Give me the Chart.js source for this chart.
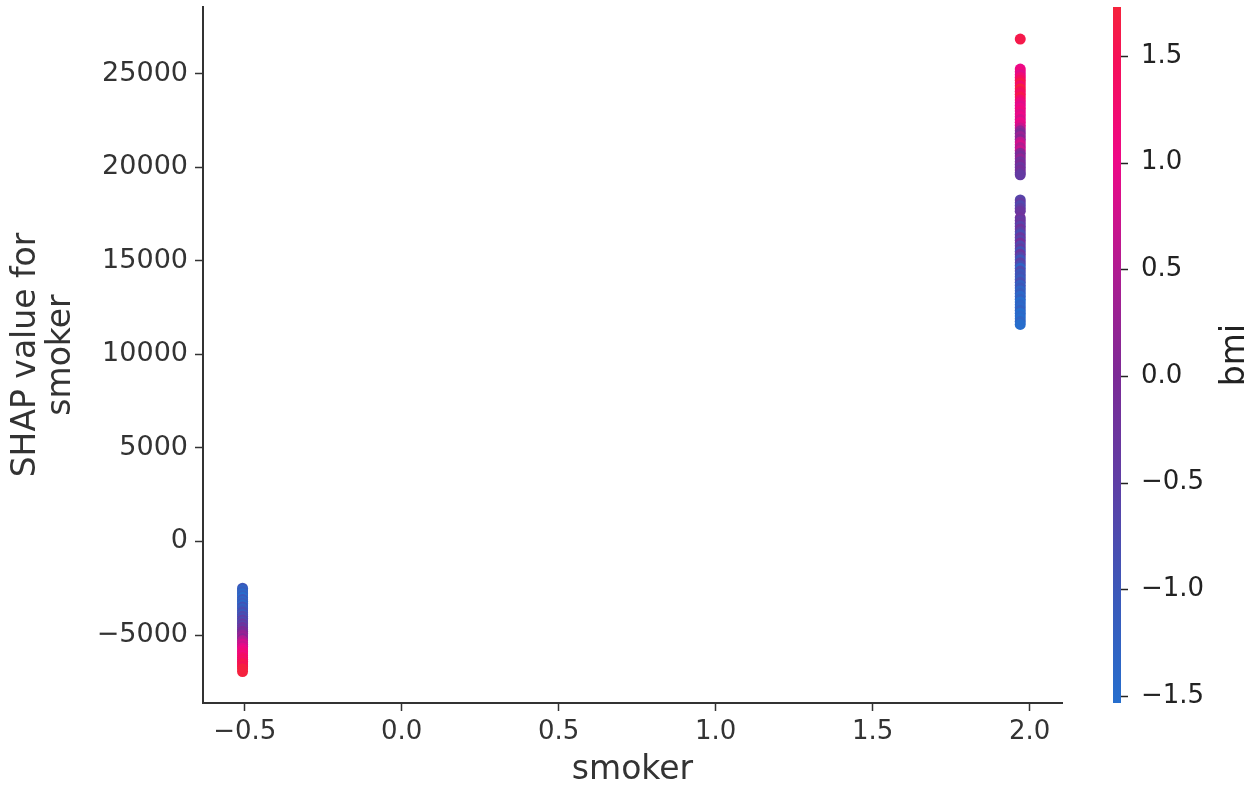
<!DOCTYPE html>
<html>
<head>
<meta charset="utf-8">
<script src="https://cdn.jsdelivr.net/npm/chart.js@4.4.0/dist/chart.umd.min.js"></script>
<style>
  html, body { margin: 0; padding: 0; background: #fff; }
  #chart { display: block; }
</style>
</head>
<body>
<canvas id="chart" width="1250" height="788"></canvas>
<script>
// standardized smoker feature: no / yes
const smokerLevels = [-0.507, 1.97];

// non-smokers (top to bottom)
const nonSmokerShap = [-2500, -2600, -2700, -2800, -2900, -3000, -3100, -3200, -3300, -3400,
    -3500, -3600, -3700, -3800, -3900, -4000, -4100, -4200, -4300, -4400,
    -4500, -4600, -4700, -4800, -4900, -5000, -5100, -5200, -5300, -5400,
    -5500, -5600, -5700, -5800, -5900, -6000, -6100, -6200, -6300, -6400,
    -6500, -6600, -6700, -6800, -6950];
const nonSmokerBmi = [-1.0, -1.3, -1.1, -1.4, -1.2, -1.5, -1.0, -1.3, -1.1, -1.4,
    -0.9, -1.2, -1.0, -0.8, -1.1, -0.7, -0.9, -0.5, -0.8, -0.4,
    -0.6, -0.2, -0.4, 0.0, -0.1, 0.2, 0.3, 0.1, 0.5, 0.6,
    0.8, 0.7, 0.9, 1.0, 1.1, 1.2, 1.1, 1.3, 1.4, 1.3,
    1.5, 1.6, 1.5, 1.7, 1.7];

// smokers (top to bottom)
const smokerShap = [26850,
    25250, 25100, 24950, 24800, 24650, 24500, 24350, 24200, 24050, 23900,
    23750, 23600, 23450, 23300, 23150, 23000, 22850, 22700, 22550, 22400,
    22250, 22100, 21950, 21800, 21650, 21500, 21350, 21200, 21050, 20900,
    20750, 20600, 20450, 20300, 20150, 20000, 19850, 19700, 19600,
    18250, 18100, 17950, 17800, 17650, 17300, 17150, 17000, 16850, 16700,
    16550, 16400, 16250, 16100, 15950, 15800, 15650, 15500, 15350, 15200,
    15050, 14900, 14750, 14600, 14450, 14300, 14150, 14000, 13850, 13700,
    13550, 13400, 13250, 13100, 12950, 12800, 12650, 12500, 12350, 12200,
    12050, 11900, 11750, 11600];
const smokerBmi = [1.6,
    1.0, 1.1, 0.9, 1.2, 1.4, 1.6, 1.3, 1.7, 1.5, 1.4,
    1.6, 1.3, 1.1, 0.9, 1.0, 1.1, 0.9, 1.0, 0.8, 1.0,
    0.9, 0.7, 0.2, 0.0, 0.3, 0.1, 0.6, 0.8, 0.5, 0.7,
    0.1, -0.1, 0.2, -0.2, 0.0, -0.3, -0.1, -0.2, -0.4,
    -0.6, -0.4, -0.7, -0.5, -0.3, -0.2, -0.4, -0.3, -0.6, -0.2,
    -0.5, -0.8, -0.3, -0.6, -0.1, -0.7, -0.4, -0.9, -0.3, -0.6,
    -1.0, -0.5, -0.8, -1.3, -0.7, -1.0, -0.9, -1.1, -0.8, -1.2,
    -1.0, -1.3, -1.1, -1.4, -1.2, -1.5, -1.3, -1.4, -1.2, -1.5,
    -1.4, -1.5, -1.3, -1.5];

const xTicks = [-0.5, 0.0, 0.5, 1.0, 1.5, 2.0];
const yTicks = [-5000, 0, 5000, 10000, 15000, 20000, 25000];
const bmiTicks = [-1.5, -1.0, -0.5, 0.0, 0.5, 1.0, 1.5];
const bmiRange = [-1.533, 1.73];

// blue -> purple -> red, as in the shap colormap
const cmapStops = [
    [0.00, [38, 110, 205]],
    [0.16, [60, 88, 185]],
    [0.32, [95, 62, 165]],
    [0.47, [124, 42, 150]],
    [0.62, [175, 28, 145]],
    [0.78, [238, 8, 135]],
    [0.92, [245, 15, 90]],
    [1.00, [245, 35, 60]]
];

function cmap(f) {
    f = Math.max(0, Math.min(1, f));
    for (let i = 1; i < cmapStops.length; i++) {
        const [f1, c1] = cmapStops[i];
        const [f0, c0] = cmapStops[i - 1];
        if (f <= f1) {
            const t = (f - f0) / (f1 - f0);
            const c = c0.map((v, k) => Math.round(v + (c1[k] - v) * t));
            return `rgb(${c[0]}, ${c[1]}, ${c[2]})`;
        }
    }
    return 'rgb(245, 35, 60)';
}

function bmiColor(v) {
    return cmap((v - bmiRange[0]) / (bmiRange[1] - bmiRange[0]));
}

// matplotlib style labels with a real minus sign
const fmt = (v, d) => (v < 0 ? '\u2212' : '') + Math.abs(v).toFixed(d);
const FONT = 'DejaVu Sans';
const AXIS = '#333333';

// keep the plot box where the reference has it
function noPad(s) {
    s.paddingTop = 0;
    s.paddingBottom = 0;
    s.paddingLeft = 0;
    s.paddingRight = 0;
}

const colorbar = {
    id: 'colorbar',
    afterDraw(chart) {
        const s = chart.scales.cbar;
        const ctx = chart.ctx;
        const x = s.left + 51, w = 8;
        const top = s.getPixelForValue(bmiRange[1]);
        const bottom = s.getPixelForValue(bmiRange[0]);
        const grad = ctx.createLinearGradient(0, bottom, 0, top);
        cmapStops.forEach(([f, c]) => grad.addColorStop(f, `rgb(${c[0]}, ${c[1]}, ${c[2]})`));
        ctx.save();
        ctx.fillStyle = grad;
        ctx.fillRect(x, top, w, bottom - top);
        ctx.strokeStyle = '#222';
        ctx.lineWidth = 1.5;
        s.ticks.forEach(t => {
            const y = Math.round(s.getPixelForValue(t.value)) + 0.5;
            ctx.beginPath();
            ctx.moveTo(x + w, y);
            ctx.lineTo(x + w + 7, y);
            ctx.stroke();
        });
        ctx.translate(s.right - 15, (top + bottom) / 2);
        ctx.rotate(-Math.PI / 2);
        ctx.fillStyle = '#222';
        ctx.font = `33px "${FONT}"`;
        ctx.textAlign = 'center';
        ctx.textBaseline = 'middle';
        ctx.fillText('bmi', 0, 0);
        ctx.restore();
    }
};

new Chart(document.getElementById('chart'), {
    type: 'scatter',
    data: {
        datasets: [{
            data: nonSmokerShap.map(y => ({ x: smokerLevels[0], y: y })),
            backgroundColor: nonSmokerBmi.map(bmiColor),
            yAxisID: 'y'
        }, {
            data: smokerShap.map(y => ({ x: smokerLevels[1], y: y })),
            backgroundColor: smokerBmi.map(bmiColor),
            yAxisID: 'y'
        }]
    },
    options: {
        responsive: false,
        animation: false,
        layout: { padding: { top: 7, left: 0, right: 0, bottom: 0 } },
        elements: { point: { radius: 5.5, hoverRadius: 5.5, borderWidth: 0 } },
        plugins: { legend: { display: false }, tooltip: { enabled: false } },
        scales: {
            x: {
                type: 'linear',
                min: -0.633,
                max: 2.103,
                afterBuildTicks: s => { s.ticks = xTicks.map(v => ({ value: v })); },
                afterFit: s => { s.height = 85; noPad(s); },
                grid: { drawOnChartArea: false, tickLength: 8, tickColor: AXIS, tickWidth: 1.5 },
                border: { color: AXIS, width: 2 },
                ticks: { color: AXIS, padding: 6, font: { family: FONT, size: 26 },
                    callback: v => fmt(v, 1) },
                title: { display: true, text: 'smoker', color: AXIS, padding: 0,
                    font: { family: FONT, size: 33, lineHeight: 1.06 } }
            },
            y: {
                type: 'linear',
                position: 'left',
                min: -8634,
                max: 28565,
                afterBuildTicks: s => { s.ticks = yTicks.map(v => ({ value: v })); },
                afterFit: s => { s.width = 203; noPad(s); },
                grid: { drawOnChartArea: false, tickLength: 8, tickColor: AXIS, tickWidth: 1.5 },
                border: { color: AXIS, width: 2 },
                ticks: { color: AXIS, padding: 7, font: { family: FONT, size: 27 },
                    callback: v => fmt(v, 0) },
                title: { display: true, text: ['SHAP value for', 'smoker'], color: AXIS,
                    padding: { top: 9, bottom: 0 },
                    font: { family: FONT, size: 33, lineHeight: 1.06 } }
            },
            cbar: {
                type: 'linear',
                position: 'right',
                min: bmiRange[0],
                max: bmiRange[1],
                afterBuildTicks: s => { s.ticks = bmiTicks.map(v => ({ value: v })); },
                afterFit: s => { s.width = 188; noPad(s); },
                grid: { display: false, drawTicks: true, tickLength: 72 },
                border: { display: false },
                ticks: { color: '#222', padding: 7, font: { family: FONT, size: 26 },
                    callback: v => fmt(v, 1) }
            }
        }
    },
    plugins: [colorbar]
});
</script>
</body>
</html>
